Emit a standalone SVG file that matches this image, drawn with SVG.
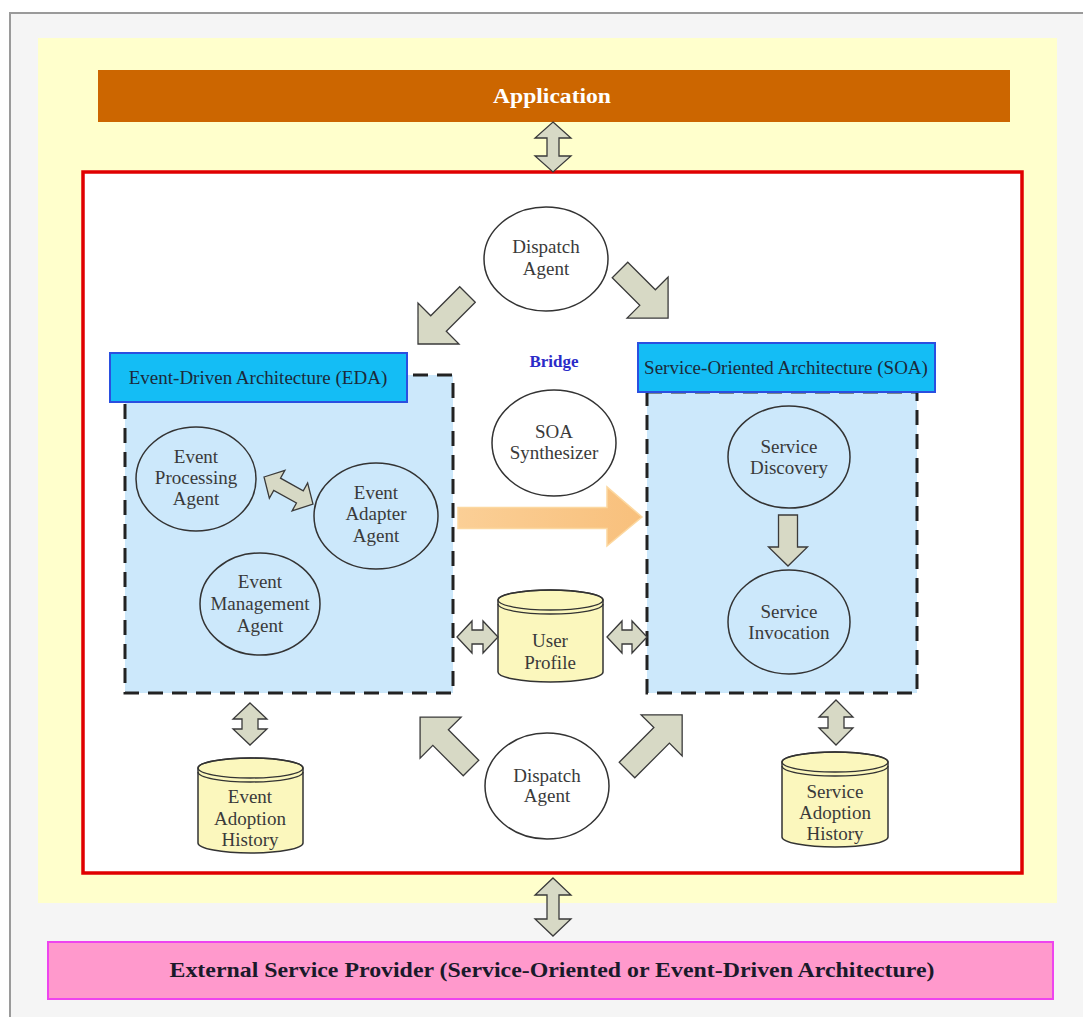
<svg xmlns="http://www.w3.org/2000/svg" width="1083" height="1017" viewBox="0 0 1083 1017">
  <style>
    .lbl { font-family: "Liberation Serif", "Times New Roman", serif; font-size: 19px; fill: #3a3a3a; text-anchor: middle; }
    .title { font-family: "Liberation Serif", "Times New Roman", serif; font-size: 19px; fill: #1c2a3a; text-anchor: middle; }
    .agent { fill: #ffffff; stroke: #333333; stroke-width: 1.5; }
    .agent-in { fill: none; stroke: #333333; stroke-width: 1.5; }
    .zone { fill: #cce8fb; stroke: #222222; stroke-width: 3; stroke-dasharray: 15 9; }
    .zone-title { fill: #14bdf5; stroke: #2a4fe0; stroke-width: 2; }
    .db { fill: #fbf7bd; stroke: #333333; stroke-width: 1.5; }
    .db-rim { fill: none; stroke: #333333; stroke-width: 1.3; }
    .flow { fill: #d7d9c5; stroke: #3a3a3a; stroke-width: 1.3; stroke-linejoin: miter; }
  </style>
  <defs>
    <linearGradient id="orangeFill" x1="0" y1="0" x2="1" y2="0">
      <stop offset="0" stop-color="#fbcf96"/>
      <stop offset="1" stop-color="#f8c07c"/>
    </linearGradient>
  </defs>

  <!-- page -->
  <rect x="0" y="0" width="1083" height="1017" fill="#ffffff"/>
  <rect x="10" y="13" width="1090" height="1020" fill="#f5f5f5" stroke="#9a9a9a" stroke-width="2"/>

  <!-- system area -->
  <rect x="38" y="38" width="1019" height="865" fill="#ffffcc"/>

  <g id="application">
    <rect x="98" y="70" width="912" height="52" fill="#cc6600"/>
    <text x="552" y="103" font-family="Liberation Serif, serif" font-size="21" font-weight="bold" fill="#ffffff" text-anchor="middle" textLength="118" lengthAdjust="spacingAndGlyphs">Application</text>
  </g>

  <!-- middleware boundary -->
  <rect id="middleware" x="83" y="172" width="939" height="701" fill="#ffffff" stroke="#e00000" stroke-width="3.5"/>

  <g id="eda">
    <rect class="zone" x="125" y="375" width="328" height="318"/>
    <rect class="zone-title" x="110" y="353" width="297" height="49"/>
    <text class="title" x="258" y="384">Event-Driven Architecture (EDA)</text>
  </g>

  <g id="soa">
    <rect class="zone" x="647" y="392" width="270" height="301"/>
    <rect class="zone-title" x="638" y="343" width="297" height="49"/>
    <text class="title" x="786" y="374">Service-Oriented Architecture (SOA)</text>
  </g>

  <g id="dispatch-agent-top">
    <ellipse class="agent" cx="546" cy="259" rx="62" ry="52"/>
    <text class="lbl" x="546" y="253">Dispatch</text>
    <text class="lbl" x="546" y="275">Agent</text>
  </g>

  <g id="bridge">
    <text x="554" y="367" font-family="Liberation Serif, serif" font-size="17" font-weight="bold" fill="#2b2bc8" text-anchor="middle">Bridge</text>
  </g>

  <g id="soa-synthesizer">
    <ellipse class="agent" cx="554" cy="443" rx="62" ry="53"/>
    <text class="lbl" x="554" y="438">SOA</text>
    <text class="lbl" x="554" y="459">Synthesizer</text>
  </g>

  <g id="event-processing-agent">
    <ellipse class="agent-in" cx="196" cy="479" rx="60" ry="52"/>
    <text class="lbl" x="196" y="463">Event</text>
    <text class="lbl" x="196" y="484">Processing</text>
    <text class="lbl" x="196" y="505">Agent</text>
  </g>

  <g id="event-adapter-agent">
    <ellipse class="agent-in" cx="376" cy="516" rx="62" ry="53"/>
    <text class="lbl" x="376" y="499">Event</text>
    <text class="lbl" x="376" y="520">Adapter</text>
    <text class="lbl" x="376" y="542">Agent</text>
  </g>

  <g id="event-management-agent">
    <ellipse class="agent-in" cx="260" cy="604" rx="60" ry="51"/>
    <text class="lbl" x="260" y="588">Event</text>
    <text class="lbl" x="260" y="610">Management</text>
    <text class="lbl" x="260" y="632">Agent</text>
  </g>

  <g id="service-discovery">
    <ellipse class="agent-in" cx="789" cy="457" rx="61" ry="51"/>
    <text class="lbl" x="789" y="453">Service</text>
    <text class="lbl" x="789" y="474">Discovery</text>
  </g>

  <g id="service-invocation">
    <ellipse class="agent-in" cx="789" cy="622" rx="61" ry="52"/>
    <text class="lbl" x="789" y="618">Service</text>
    <text class="lbl" x="789" y="639">Invocation</text>
  </g>

  <g id="user-profile">
    <path class="db" d="M498,600 A52.5,10 0 0 1 603,600 L603,672 A52.5,10 0 0 1 498,672 Z"/>
    <ellipse class="db-rim" cx="550.5" cy="600" rx="52.5" ry="10"/>
    <path class="db-rim" d="M498,604 A52.5,10 0 0 0 603,604"/>
    <text class="lbl" x="550" y="647">User</text>
    <text class="lbl" x="550" y="669">Profile</text>
  </g>

  <g id="event-adoption-history">
    <path class="db" d="M198,768 A52.5,10 0 0 1 303,768 L303,843 A52.5,10 0 0 1 198,843 Z"/>
    <ellipse class="db-rim" cx="250.5" cy="768" rx="52.5" ry="10"/>
    <path class="db-rim" d="M198,772 A52.5,10 0 0 0 303,772"/>
    <text class="lbl" x="250" y="803">Event</text>
    <text class="lbl" x="250" y="825">Adoption</text>
    <text class="lbl" x="250" y="846">History</text>
  </g>

  <g id="service-adoption-history">
    <path class="db" d="M782,762 A53,10 0 0 1 888,762 L888,837 A53,10 0 0 1 782,837 Z"/>
    <ellipse class="db-rim" cx="835" cy="762" rx="53" ry="10"/>
    <path class="db-rim" d="M782,766 A53,10 0 0 0 888,766"/>
    <text class="lbl" x="835" y="798">Service</text>
    <text class="lbl" x="835" y="819">Adoption</text>
    <text class="lbl" x="835" y="840">History</text>
  </g>

  <g id="dispatch-agent-bottom">
    <ellipse class="agent" cx="547" cy="786" rx="62" ry="53"/>
    <text class="lbl" x="547" y="782">Dispatch</text>
    <text class="lbl" x="547" y="802">Agent</text>
  </g>

  <g id="external-provider">
    <rect x="48" y="942" width="1005" height="57" fill="#ff99cc" stroke="#ee44ee" stroke-width="2"/>
    <text x="552" y="977" font-family="Liberation Serif, serif" font-size="21" font-weight="bold" fill="#1a1a2a" text-anchor="middle" textLength="765" lengthAdjust="spacingAndGlyphs">External Service Provider (Service-Oriented or Event-Driven Architecture)</text>
  </g>

  <g id="connectors">
    <!-- Application <-> middleware -->
    <path class="flow" transform="translate(553,122) rotate(90)" d="M0,0 L16,-18 L16,-6 L34,-6 L34,-18 L50,0 L34,18 L34,6 L16,6 L16,18 Z"/>
    <!-- middleware <-> external provider -->
    <path class="flow" transform="translate(553,878) rotate(90)" d="M0,0 L17,-18 L17,-6 L41,-6 L41,-18 L58,0 L41,18 L41,6 L17,6 L17,18 Z"/>
    <!-- dispatch (top) to EDA and SOA -->
    <path class="flow" transform="translate(467.5,294.5) rotate(135)" d="M0,-11 L41,-11 L41,-29 L70,0 L41,29 L41,11 L0,11 Z"/>
    <path class="flow" transform="translate(620,270) rotate(45)" d="M0,-11 L39,-11 L39,-29 L68,0 L39,29 L39,11 L0,11 Z"/>
    <!-- dispatch (bottom) to EDA and SOA -->
    <path class="flow" transform="translate(471,768) rotate(-135)" d="M0,-11 L43,-11 L43,-29 L72,0 L43,29 L43,11 L0,11 Z"/>
    <path class="flow" transform="translate(627,770) rotate(-45)" d="M0,-11 L49,-11 L49,-29 L78,0 L49,29 L49,11 L0,11 Z"/>
    <!-- event processing <-> event adapter -->
    <path class="flow" transform="translate(264,477) rotate(29)" d="M0,0 L15,-16 L15,-7 L41,-7 L41,-16 L56,0 L41,16 L41,7 L15,7 L15,16 Z"/>
    <!-- EDA -> SOA synthesis flow -->
    <path transform="translate(458,518)" d="M0,-10.5 L149,-10.5 L149,-31 L184,-1 L149,28 L149,10.5 L0,10.5 Z" fill="url(#orangeFill)" stroke="#fcd8a0" stroke-width="1.5"/>
    <!-- service discovery -> service invocation -->
    <path class="flow" transform="translate(788,515) rotate(90)" d="M0,-9.5 L32,-9.5 L32,-19.5 L51,0 L32,19.5 L32,9.5 L0,9.5 Z"/>
    <!-- user profile <-> EDA / SOA -->
    <path class="flow" transform="translate(457,637)" d="M0,0 L15,-16 L15,-7 L26,-7 L26,-16 L41,0 L26,16 L26,7 L15,7 L15,16 Z"/>
    <path class="flow" transform="translate(607,637)" d="M0,0 L15,-16 L15,-7 L25,-7 L25,-16 L40,0 L25,16 L25,7 L15,7 L15,16 Z"/>
    <!-- adoption histories -->
    <path class="flow" transform="translate(250,703) rotate(90)" d="M0,0 L16,-17 L16,-8 L26,-8 L26,-17 L42,0 L26,17 L26,8 L16,8 L16,17 Z"/>
    <path class="flow" transform="translate(836,700) rotate(90)" d="M0,0 L17,-17 L17,-8 L28,-8 L28,-17 L45,0 L28,17 L28,8 L17,8 L17,17 Z"/>
  </g>
</svg>
